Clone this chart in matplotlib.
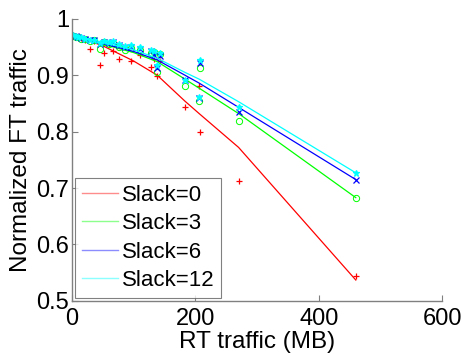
import matplotlib.pyplot as plt
import numpy as np

plt.rcParams['font.family'] = 'Liberation Sans'

# measured points (RT traffic in MB, normalized FT traffic)
x_pts = [2, 6, 10, 15, 21, 29, 36, 45, 52, 60, 66, 76, 86, 96, 110, 128, 133, 138, 143, 183, 206, 207, 270, 460]
red_pts = [0.972, 0.970, 0.968, 0.966, 0.963, 0.946, 0.960, 0.918, 0.940, 0.955, 0.943, 0.929,
           0.950, 0.926, 0.935, 0.915, 0.928, 0.899, 0.925, 0.844, 0.880, 0.800, 0.713, 0.544]
green_pts = [0.970, 0.968, 0.967, 0.965, 0.964, 0.960, 0.962, 0.947, 0.958, 0.955, 0.957, 0.950,
             0.945, 0.948, 0.944, 0.940, 0.941, 0.906, 0.938, 0.881, 0.855, 0.913, 0.818, 0.683]
blue_pts = [0.970, 0.969, 0.967, 0.966, 0.964, 0.962, 0.962, 0.955, 0.958, 0.957, 0.958, 0.953,
            0.950, 0.950, 0.947, 0.942, 0.936, 0.913, 0.934, 0.892, 0.860, 0.921, 0.835, 0.715]
cyan_pts = [0.971, 0.970, 0.968, 0.967, 0.965, 0.963, 0.963, 0.957, 0.960, 0.958, 0.960, 0.955,
            0.952, 0.953, 0.950, 0.944, 0.943, 0.918, 0.939, 0.892, 0.862, 0.927, 0.844, 0.727]

# fitted curves
fit_x = [0, 50, 100, 138, 183, 206, 270, 460]
red_fit = [0.972, 0.952, 0.925, 0.900, 0.854, 0.832, 0.772, 0.537]
green_fit = [0.970, 0.955, 0.940, 0.924, 0.893, 0.877, 0.832, 0.683]
blue_fit = [0.970, 0.956, 0.942, 0.927, 0.900, 0.886, 0.843, 0.715]
cyan_fit = [0.971, 0.958, 0.945, 0.930, 0.905, 0.893, 0.853, 0.727]

labels = ['Slack=0', 'Slack=3', 'Slack=6', 'Slack=12']
colors = ['#ff0000', '#00ff00', '#0000ff', '#00ffff']
legend_colors = ['#ff8c8c', '#8cff8c', '#8c8cff', '#8cffff']
markers = ['+', 'o', 'x', '*']

fig = plt.figure(figsize=(4.62, 3.54), dpi=100)
ax = fig.add_axes([0.156, 0.150, 0.801, 0.797])

series = [(red_pts, red_fit), (green_pts, green_fit), (blue_pts, blue_fit), (cyan_pts, cyan_fit)]
handles = []
for (pts, fit), c, lc, m, lab in zip(series, colors, legend_colors, markers, labels):
    if m == 'o':
        ax.plot(x_pts, pts, linestyle='none', marker=m, markersize=4.5, markerfacecolor='none',
                markeredgecolor=c, markeredgewidth=0.7)
    else:
        ax.plot(x_pts, pts, linestyle='none', marker=m, markersize=5, markeredgecolor=c,
                markerfacecolor=c, markeredgewidth=0.9)
    ax.plot(fit_x, fit, color=c, linewidth=0.9)
    h, = ax.plot([], [], color=lc, linewidth=1.0, label=lab)
    handles.append(h)

ax.set_xlim(0, 600)
ax.set_ylim(0.5, 1.0)
ax.set_xticks([0, 200, 400, 600])
ax.set_yticks(np.arange(0.5, 1.01, 0.1))
ax.set_yticklabels(['0.5', '0.6', '0.7', '0.8', '0.9', '1'])
ax.tick_params(direction='in', length=4, width=0.8, color='#808080', labelsize=17)
ax.tick_params(axis='x', pad=5)
ax.tick_params(axis='y', pad=2)
for s in ['top', 'right']:
    ax.spines[s].set_visible(False)
for s in ['left', 'bottom']:
    ax.spines[s].set_color('#808080')
    ax.spines[s].set_linewidth(1.0)

ax.set_xlabel('RT traffic (MB)', fontsize=17.5, labelpad=1)
ax.set_ylabel('Normalized FT traffic', fontsize=17.5, labelpad=3)

leg = ax.legend(handles=handles, loc='lower left', fontsize=16, frameon=True, fancybox=False,
                handlelength=1.6, handletextpad=0.2, borderpad=0.3, labelspacing=0.33,
                borderaxespad=0.15)
leg.get_frame().set_edgecolor('#606060')
leg.get_frame().set_linewidth(0.8)

plt.savefig('out.png', dpi=100)
